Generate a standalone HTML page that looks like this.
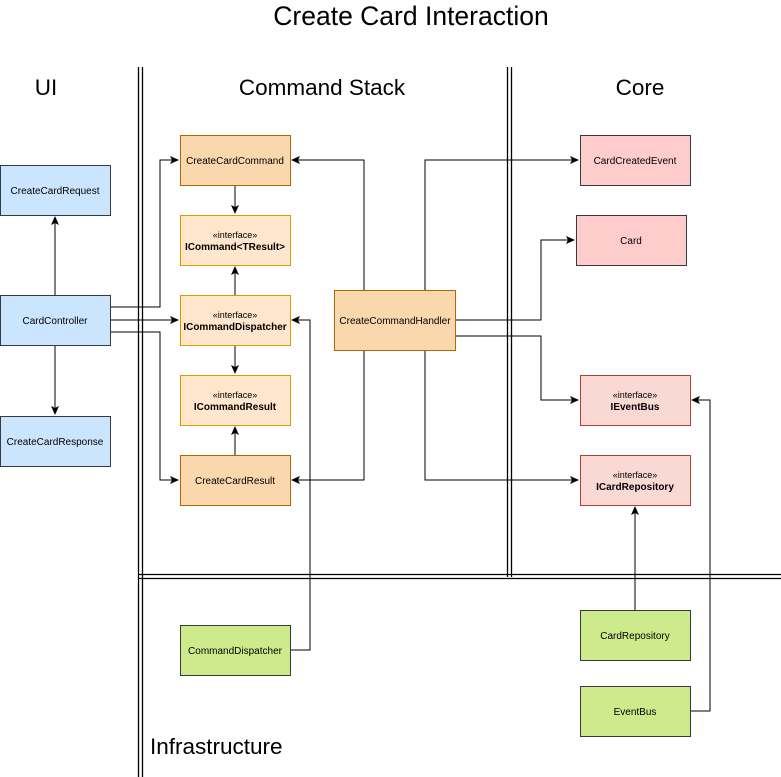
<!DOCTYPE html>
<html><head><meta charset="utf-8"><style>body{margin:0;background:#fff}svg{display:block}text{font-family:"Liberation Sans",Arial,sans-serif}</style></head><body>
<svg width="781" height="777" viewBox="0 0 781 777" xmlns="http://www.w3.org/2000/svg">
<defs><marker id="a" markerWidth="10" markerHeight="10" refX="8" refY="5" orient="auto" markerUnits="userSpaceOnUse"><path d="M0,1 L9,5 L0,9 L2,5 Z" fill="#000"/></marker></defs>
<text x="411" y="25" font-size="26.5" text-anchor="middle">Create Card Interaction</text>
<g font-size="22.5" text-anchor="middle"><text x="46" y="95">UI</text><text x="322" y="95">Command Stack</text><text x="640" y="95">Core</text></g>
<text x="150" y="754" font-size="22.5">Infrastructure</text>
<g stroke="#000" stroke-width="1.3" fill="none">
<path d="M138.5 67V777M142.5 67V777M507.5 67V577M511.5 67V577M138 574.5H781M138 578.5H781"/>
</g>
<g stroke="#000" stroke-width="1" fill="none" marker-end="url(#a)">
<path d="M55 295V217"/><path d="M55 345V414"/>
<path d="M110 307H160V160H178"/><path d="M110 320H178"/><path d="M110 332H160V480H178"/>
<path d="M235 185V213"/><path d="M235 295V267"/><path d="M235 345V373"/><path d="M235 455V427"/>
<path d="M364 290V160H292"/><path d="M364 350V480H292"/>
<path d="M425 290V160H578"/><path d="M425 350V480H578"/>
<path d="M455 320H541V240H574"/><path d="M455 336H541V400H578"/>
<path d="M290 650H310V320H292"/>
<path d="M635 610V507"/><path d="M690 711H710V400H692"/>
</g>
<g font-size="10" text-anchor="middle">
<rect x="0.5" y="165.5" width="110" height="50" fill="#cce5ff" stroke="#36393d"/><text x="55" y="194">CreateCardRequest</text>
<rect x="0.5" y="295.5" width="110" height="50" fill="#cce5ff" stroke="#36393d"/><text x="55" y="324">CardController</text>
<rect x="0.5" y="416.5" width="110" height="50" fill="#cce5ff" stroke="#36393d"/><text x="55" y="445">CreateCardResponse</text>
<rect x="180.5" y="135.5" width="110" height="50" fill="#fad7ac" stroke="#b46504"/><text x="235" y="164">CreateCardCommand</text>
<rect x="180.5" y="215.5" width="110" height="50" fill="#ffe6cc" stroke="#d79b00"/><text x="235" y="238" font-size="9">«interface»</text><text x="235" y="250" font-weight="bold">ICommand&lt;TResult&gt;</text>
<rect x="180.5" y="295.5" width="110" height="50" fill="#ffe6cc" stroke="#d79b00"/><text x="235" y="318" font-size="9">«interface»</text><text x="235" y="330" font-weight="bold">ICommandDispatcher</text>
<rect x="180.5" y="375.5" width="110" height="50" fill="#ffe6cc" stroke="#d79b00"/><text x="235" y="398" font-size="9">«interface»</text><text x="235" y="410" font-weight="bold">ICommandResult</text>
<rect x="180.5" y="455.5" width="110" height="50" fill="#fad7ac" stroke="#b46504"/><text x="235" y="484">CreateCardResult</text>
<rect x="334.5" y="290.5" width="121" height="60" fill="#fad7ac" stroke="#b46504"/><text x="395" y="324">CreateCommandHandler</text>
<rect x="580.5" y="135.5" width="110" height="50" fill="#ffcccc" stroke="#36393d"/><text x="635" y="164">CardCreatedEvent</text>
<rect x="576.5" y="215.5" width="110" height="50" fill="#ffcccc" stroke="#36393d"/><text x="631" y="244">Card</text>
<rect x="580.5" y="375.5" width="110" height="50" fill="#fad9d5" stroke="#ae4132"/><text x="635" y="398" font-size="9">«interface»</text><text x="635" y="410" font-weight="bold">IEventBus</text>
<rect x="580.5" y="455.5" width="110" height="50" fill="#fad9d5" stroke="#ae4132"/><text x="635" y="478" font-size="9">«interface»</text><text x="635" y="490" font-weight="bold">ICardRepository</text>
<rect x="180.5" y="625.5" width="110" height="50" fill="#cdeb8b" stroke="#36393d"/><text x="235" y="654">CommandDispatcher</text>
<rect x="580.5" y="610.5" width="110" height="50" fill="#cdeb8b" stroke="#36393d"/><text x="635" y="639">CardRepository</text>
<rect x="580.5" y="686.5" width="110" height="50" fill="#cdeb8b" stroke="#36393d"/><text x="635" y="715">EventBus</text>
</g>
</svg>
</body></html>
